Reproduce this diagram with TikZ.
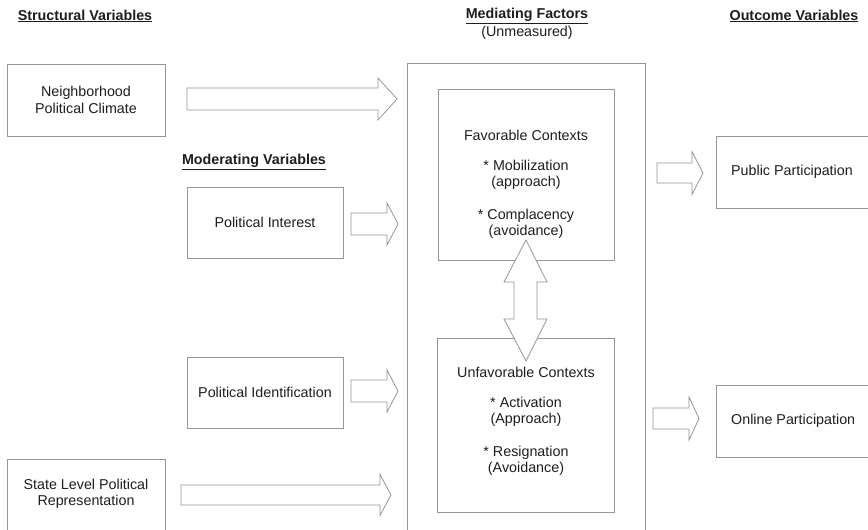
\documentclass[tikz,border=0pt]{standalone}
\usepackage{fontspec}
\setmainfont{Liberation Sans}
\begin{document}
\begin{tikzpicture}[x=1pt,y=-1pt,
  font=\fontsize{14.3}{16.5}\selectfont,
  box/.style={draw=boxgray,line width=0.9pt,fill=white},
  txt/.style={text=txtgray,align=center,inner sep=0pt},
  head/.style={text=txtgray,font=\fontsize{14.3}{16.5}\selectfont\bfseries,inner sep=0pt},
  barrow/.style={draw=boxgray,line width=0.8pt,fill=white,line join=miter}]
\definecolor{boxgray}{RGB}{150,150,150}
\definecolor{txtgray}{RGB}{30,30,30}
\useasboundingbox (0,0) rectangle (868,530);
\fill[white] (0,0) rectangle (868,530);
% headers
\node[head] (hs) at (85,16) {\underline{Structural Variables}};
\node[head] (hm) at (527,16) {\underline{Mediating Factors}};
\node[txt] (hu) at (527,33) {(Unmeasured)};
\node[head] (ho) at (794,16) {\underline{Outcome Variables}};
\node[head] (hmod) at (254,162) {\underline{Moderating Variables}};
% left boxes
\draw[box] (7,64) rectangle (165,136);
\node[txt] (nb) at (86,100) {Neighborhood\\Political Climate};
\draw[box] (7,459) rectangle (165,540);
\node[txt] (st) at (86,494) {State Level Political\\Representation};
\draw[box] (187,187) rectangle (343,258);
\node[txt] (pi) at (265,222.5) {Political Interest};
\draw[box] (187,357) rectangle (343,428);
\node[txt] (pid) at (265,392.5) {Political Identification};
% mediating
\draw[box] (407,63) rectangle (645,540);
\draw[box] (438,89) rectangle (614,260);
\node[txt] (fav) at (526,135) {Favorable Contexts};
\node[txt] (fav1) at (526,175) {* Mobilization\\(approach)};
\node[txt] (fav2) at (526,224) {* Complacency\\(avoidance)};
\draw[box] (437,338) rectangle (614,512);
\node[txt] (unf) at (526,372) {Unfavorable Contexts};
\node[txt] (unf1) at (526,412) {* Activation\\(Approach)};
\node[txt] (unf2) at (526,461) {* Resignation\\(Avoidance)};
% outcome
\draw[box] (716,136) rectangle (880,208);
\node[txt,anchor=west] (pp) at (731,172) {Public Participation};
\draw[box] (716,385) rectangle (880,457);
\node[txt,anchor=west] (op) at (731,421) {Online Participation};
% block arrows: start x, head start x, tip x, center y, body half, head half
\newcommand{\blockarr}[6]{%
  \draw[barrow] (#1,#4-#5) -- (#2,#4-#5) -- (#2,#4-#6) -- (#3,#4) -- (#2,#4+#6) -- (#2,#4+#5) -- (#1,#4+#5) -- cycle;}
\blockarr{187}{378}{397}{99}{11}{21}
\blockarr{351}{387}{398}{224}{11}{21}
\blockarr{351}{387}{398}{391}{11}{21}
\blockarr{181}{380}{391}{495}{10}{20.5}
\blockarr{657}{692}{703}{173}{10}{21.5}
\blockarr{653}{689}{699}{418.5}{10.5}{21.5}
% double arrow
\draw[barrow] (526,240) -- (547,282) -- (537,282) -- (537,319) -- (547,319) -- (526,361)
  -- (504,319) -- (514,319) -- (514,282) -- (504,282) -- cycle;
\end{tikzpicture}
\end{document}
